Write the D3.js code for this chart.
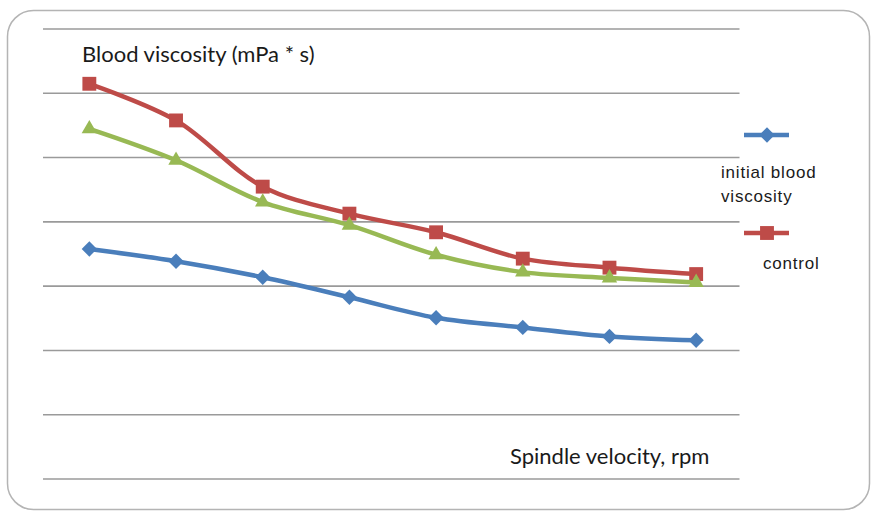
<!DOCTYPE html>
<html><head><meta charset="utf-8">
<script src="https://cdn.jsdelivr.net/npm/d3@7"></script>
<style>html,body{margin:0;padding:0;background:#fff;}</style>
</head><body><div id="chart"></div>
<script>
// ---- data (in gridline units) ----
const categories = ["1","2","3","4","5","6","7","8"];
const initialViscosity = [3.57, 3.38, 3.13, 2.82, 2.50, 2.35, 2.21, 2.15];
const controlViscosity = [6.14, 5.57, 4.54, 4.12, 3.83, 3.42, 3.28, 3.18];
const thirdViscosity   = [5.44, 4.95, 4.30, 3.94, 3.48, 3.21, 3.12, 3.05];
const yTicks = [0, 1, 2, 3, 4, 5, 6, 7];
const seriesNames = ["initial blood viscosity", "control", ""];
const yTitle = "Blood viscosity (mPa * s)";
const xTitle = "Spindle velocity, rpm";

const W = 872, H = 512;
const svg = d3.select("#chart").append("svg").attr("width", W).attr("height", H);

// frame
svg.append("rect").attr("x", 7.5).attr("y", 10.5).attr("width", 862).attr("height", 499)
  .attr("rx", 26).attr("ry", 26).attr("fill", "#fff").attr("stroke", "#b4b4b4").attr("stroke-width", 1.5);

const x = d3.scaleBand().domain(categories).range([46, 739.5]);
const y = d3.scaleLinear().domain([0, 7]).range([478.5, 28.5]);

// gridlines via axis
const grid = svg.append("g").attr("transform", "translate(43,0)")
  .call(d3.axisLeft(y).tickValues(yTicks).tickSize(-(739.5 - 43)).tickFormat(""));
grid.select(".domain").remove();
grid.selectAll(".tick line").attr("stroke", "#9a9a9a").attr("stroke-width", 1.6);

const series = [
  {name: seriesNames[0], values: initialViscosity, color: "#4A7EBB", marker: d3.symbolDiamond2, msize: 150},
  {name: seriesNames[1], values: controlViscosity, color: "#BE4B48", marker: d3.symbolSquare2, msize: 245},
  {name: seriesNames[2], values: thirdViscosity, color: "#98B954", marker: d3.symbolTriangle2, msize: 170}
];

const line = d3.line()
  .x((d, i) => x(categories[i]) + x.bandwidth() / 2)
  .y(d => y(d))
  .curve(d3.curveCatmullRom.alpha(0.5));

series.forEach(s => {
  const g = svg.append("g");
  g.append("path").datum(s.values).attr("d", line)
    .attr("fill", "none").attr("stroke", s.color).attr("stroke-width", 4.5).attr("stroke-linejoin", "round");
  g.selectAll("path.m").data(s.values).enter().append("path").attr("class", "m")
    .attr("d", d3.symbol().type(s.marker).size(s.msize))
    .attr("transform", (d, i) => `translate(${x(categories[i]) + x.bandwidth() / 2},${y(d)})`)
    .attr("fill", s.color);
});

// axis titles
svg.append("text").attr("x", 82).attr("y", 62).text(yTitle)
  .attr("font-family", "Lato, 'Open Sans', sans-serif").attr("font-size", 22).attr("fill", "#1a1a1a");
svg.append("text").attr("x", 510).attr("y", 464).text(xTitle)
  .attr("font-family", "Lato, 'Open Sans', sans-serif").attr("font-size", 22).attr("fill", "#1a1a1a");

// legend (only two entries visible)
const leg = svg.append("g").attr("font-family", "'Liberation Sans', Arial, sans-serif")
  .attr("font-size", 17).attr("letter-spacing", 0.8).attr("fill", "#1a1a1a");
const legItems = [
  {s: series[0], ly: 135, lines: ["initial blood", "viscosity"], tx: 721, ty: 178},
  {s: series[1], ly: 233, lines: ["control"], tx: 763, ty: 269}
];
legItems.forEach(it => {
  leg.append("line").attr("x1", 744).attr("x2", 789).attr("y1", it.ly).attr("y2", it.ly)
    .attr("stroke", it.s.color).attr("stroke-width", 4.5);
  leg.append("path").attr("d", d3.symbol().type(it.s.marker).size(it.s.msize))
    .attr("transform", `translate(767,${it.ly})`).attr("fill", it.s.color);
  const t = leg.append("text").attr("x", it.tx).attr("y", it.ty);
  it.lines.forEach((l, k) => t.append("tspan").attr("x", it.tx).attr("dy", k ? 24 : 0).text(l));
});
</script></body></html>
